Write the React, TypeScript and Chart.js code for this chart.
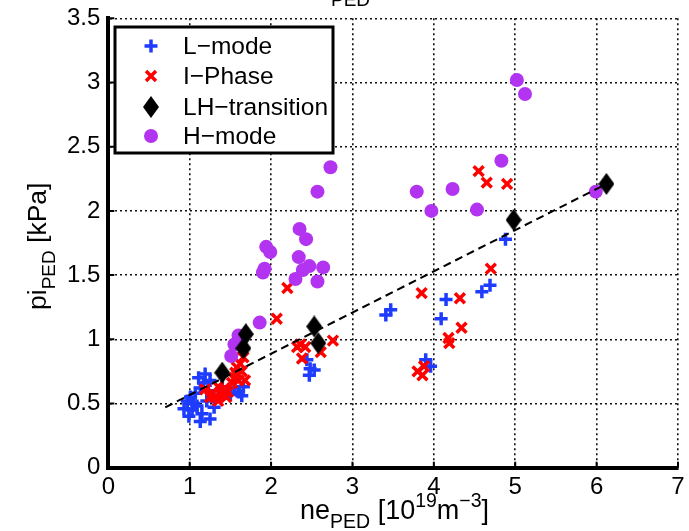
import React, { useEffect, useRef } from "react";
import { Chart, registerables } from "chart.js";

Chart.register(...registerables);

// ---- data ----
const lModeX = [0.93, 0.97, 0.99, 1.01, 1.03, 1.05, 1.07, 1.09, 1.11, 1.13, 1.13, 1.15, 1.17, 1.19, 1.21, 1.23, 1.25, 1.25, 1.30, 1.35, 1.40, 1.47, 1.50, 1.55, 1.60, 1.64, 1.66,
  2.44, 2.48, 2.47, 2.53,
  3.41, 3.47, 3.90, 3.96, 4.09, 4.15, 4.59, 4.69, 4.88];
const lModeY = [0.46, 0.52, 0.40, 0.55, 0.45, 0.50, 0.58, 0.48, 0.70, 0.62, 0.36, 0.42, 0.66, 0.73, 0.52, 0.60, 0.68, 0.38, 0.47, 0.60, 0.63, 0.58, 0.57, 0.62, 0.59, 0.56, 0.63,
  0.84, 0.77, 0.72, 0.76,
  1.19, 1.23, 0.84, 0.79, 1.16, 1.31, 1.37, 1.42, 1.78];

const iPhaseX = [1.19, 1.25, 1.28, 1.31, 1.35, 1.35, 1.39, 1.43, 1.45, 1.47, 1.52, 1.55, 1.56, 1.58, 1.60, 1.62, 1.64, 1.65, 1.66, 1.68,
  2.07, 2.20, 2.32, 2.36, 2.38, 2.42, 2.61, 2.76,
  3.80, 3.86, 3.88, 3.85, 4.18, 4.19, 4.32, 4.34, 4.55, 4.65, 4.70, 4.90];
const iPhaseY = [0.61, 0.55, 0.58, 0.55, 0.52, 0.63, 0.57, 0.62, 0.55, 0.59, 0.66, 0.70, 0.74, 0.78, 0.68, 0.81, 0.75, 0.92, 0.86, 0.68,
  1.16, 1.40, 0.94, 0.96, 0.85, 0.94, 0.90, 0.99,
  0.75, 0.72, 0.79, 1.36, 1.01, 0.97, 1.32, 1.09, 2.31, 2.22, 1.55, 2.21];

const lhX = [1.40, 1.66, 1.69, 2.53, 2.58, 4.98, 6.12];
const lhY = [0.74, 0.93, 1.04, 1.10, 0.97, 1.93, 2.21];

const hModeX = [1.51, 1.55, 1.60, 1.86, 1.90, 1.92, 1.94, 1.99, 2.30, 2.34, 2.35, 2.39, 2.43, 2.47, 2.57, 2.64, 2.57, 2.73,
  3.79, 3.97, 4.23, 4.53, 4.83, 5.02, 5.12, 5.99];
const hModeY = [0.87, 0.96, 1.03, 1.13, 1.52, 1.55, 1.72, 1.68, 1.47, 1.64, 1.86, 1.54, 1.78, 1.57, 1.45, 1.56, 2.15, 2.34,
  2.15, 2.00, 2.17, 2.01, 2.39, 3.02, 2.91, 2.15];

const fitX = [0.70, 6.12];
const fitY = [0.47, 2.21];

const xTicks = [0, 1, 2, 3, 4, 5, 6, 7];
const yTicks = [0, 0.5, 1, 1.5, 2, 2.5, 3, 3.5];
const legendLabels = ["L\u2212mode", "I\u2212Phase", "LH\u2212transition", "H\u2212mode"];

// ---- styles ----
const FONT = '"Liberation Sans", Arial, Helvetica, sans-serif';
const BLUE = "rgb(30,60,255)";
const RED = "rgb(255,0,0)";
const PURPLE = "rgb(178,52,240)";
const BLACK = "#000";

function pts(xs: number[], ys: number[]) {
  return xs.map((x, i) => ({ x, y: ys[i] }));
}

function makeDiamond(w: number, h: number, color: string) {
  const c = document.createElement("canvas");
  c.width = w;
  c.height = h;
  const g = c.getContext("2d")!;
  g.fillStyle = color;
  g.beginPath();
  g.moveTo(w / 2, 0);
  g.lineTo(w, h / 2);
  g.lineTo(w / 2, h);
  g.lineTo(0, h / 2);
  g.closePath();
  g.fill();
  return c;
}

function drawRichText(ctx: CanvasRenderingContext2D, parts: { t: string; k: "n" | "sub" | "sup" }[], x: number, y: number, main: number, small: number) {
  let cx = x;
  for (const p of parts) {
    const size = p.k === "n" ? main : small;
    ctx.font = `${size}px ${FONT}`;
    const dy = p.k === "sub" ? 9 : p.k === "sup" ? -12 : 0;
    ctx.fillText(p.t, cx, y + dy);
    cx += ctx.measureText(p.t).width;
  }
}

export default function App() {
  const ref = useRef<HTMLCanvasElement | null>(null);

  useEffect(() => {
    if (!ref.current) return;
    const diamond = makeDiamond(16, 22, BLACK);

    const overlay = {
      id: "overlay",
      afterDraw(chart: any) {
        const ctx: CanvasRenderingContext2D = chart.ctx;
        const xs = chart.scales.x;
        const ys = chart.scales.y;
        const area = chart.chartArea;
        ctx.save();
        // inward tick marks
        ctx.strokeStyle = BLACK;
        ctx.lineWidth = 2;
        ctx.setLineDash([]);
        ctx.beginPath();
        for (const v of xTicks) {
          const px = xs.getPixelForValue(v);
          ctx.moveTo(px, area.bottom);
          ctx.lineTo(px, area.bottom - 6);
        }
        for (const v of yTicks) {
          const py = ys.getPixelForValue(v);
          ctx.moveTo(area.left, py);
          ctx.lineTo(area.left + 6, py);
        }
        ctx.stroke();

        // legend
        const lx = 115, ly = 27, lw = 218, lh = 126;
        ctx.fillStyle = "#fff";
        ctx.fillRect(lx, ly, lw, lh);
        ctx.strokeStyle = BLACK;
        ctx.lineWidth = 3;
        ctx.strokeRect(lx, ly, lw, lh);
        const rows = [46, 76, 107, 136];
        const mx = 151;
        // plus
        ctx.strokeStyle = BLUE;
        ctx.lineWidth = 3.5;
        ctx.beginPath();
        ctx.moveTo(mx - 6.5, rows[0]); ctx.lineTo(mx + 6.5, rows[0]);
        ctx.moveTo(mx, rows[0] - 6.5); ctx.lineTo(mx, rows[0] + 6.5);
        ctx.stroke();
        // x
        ctx.strokeStyle = RED;
        ctx.beginPath();
        ctx.moveTo(mx - 5, rows[1] - 5); ctx.lineTo(mx + 5, rows[1] + 5);
        ctx.moveTo(mx - 5, rows[1] + 5); ctx.lineTo(mx + 5, rows[1] - 5);
        ctx.stroke();
        // diamond
        ctx.drawImage(diamond, mx - 8, rows[2] - 11, 16, 22);
        // circle
        ctx.fillStyle = PURPLE;
        ctx.beginPath();
        ctx.arc(mx, rows[3], 7, 0, Math.PI * 2);
        ctx.fill();
        ctx.fillStyle = BLACK;
        ctx.font = `24.5px ${FONT}`;
        ctx.textBaseline = "middle";
        ctx.textAlign = "left";
        legendLabels.forEach((t, i) => ctx.fillText(t, 183, rows[i] + 1));

        // axis titles
        ctx.textBaseline = "alphabetic";
        drawRichText(ctx, [
          { t: "ne", k: "n" }, { t: "PED", k: "sub" }, { t: " [10", k: "n" }, { t: "19", k: "sup" },
          { t: "m", k: "n" }, { t: "\u22123", k: "sup" }, { t: "]", k: "n" },
        ], 300, 519, 27, 19.5);

        ctx.save();
        ctx.translate(46, 310);
        ctx.rotate(-Math.PI / 2);
        drawRichText(ctx, [
          { t: "pi", k: "n" }, { t: "PED", k: "sub" }, { t: " [kPa]", k: "n" },
        ], 0, 0, 26.5, 19);
        ctx.restore();

        // top title fragment (cut off by the page top)
        ctx.font = `19px ${FONT}`;
        ctx.fillText("PED", 331, 6);
        ctx.restore();
      },
    };

    const chart = new Chart(ref.current, {
      type: "scatter",
      data: {
        datasets: [
          {
            label: "fit",
            type: "line",
            data: pts(fitX, fitY),
            borderColor: BLACK,
            borderWidth: 2,
            borderDash: [8, 5],
            pointRadius: 0,
            showLine: true,
            fill: false,
            order: 0,
          } as any,
          {
            label: legendLabels[2],
            data: pts(lhX, lhY),
            pointStyle: diamond,
            pointRadius: 10,
            order: 1,
          },
          {
            label: legendLabels[3],
            data: pts(hModeX, hModeY),
            pointStyle: "circle",
            pointRadius: 7,
            backgroundColor: PURPLE,
            borderWidth: 0,
            order: 2,
          },
          {
            label: legendLabels[1],
            data: pts(iPhaseX, iPhaseY),
            pointStyle: "crossRot",
            pointRadius: 7,
            borderColor: RED,
            backgroundColor: RED,
            borderWidth: 3.5,
            order: 3,
          },
          {
            label: legendLabels[0],
            data: pts(lModeX, lModeY),
            pointStyle: "cross",
            pointRadius: 6.5,
            borderColor: BLUE,
            backgroundColor: BLUE,
            borderWidth: 3.5,
            order: 4,
          },
        ],
      },
      options: {
        responsive: false,
        animation: false,
        layout: { padding: { left: 0, right: 2.5, top: 18.3, bottom: 0 } },
        plugins: { legend: { display: false }, tooltip: { enabled: false }, title: { display: false } },
        scales: {
          x: {
            type: "linear",
            min: 0,
            max: 7,
            afterBuildTicks: (s: any) => { s.ticks = xTicks.map((v) => ({ value: v })); },
            afterFit: (s: any) => { s.height = 63.3; s.paddingLeft = 0; s.paddingRight = 0; },
            grid: { color: "#111", lineWidth: 1.6, drawTicks: false },
            border: { color: BLACK, width: 4, dash: [2, 3] },
            ticks: { color: BLACK, font: { family: FONT, size: 24 }, padding: 5, maxRotation: 0, autoSkip: false, callback: (v: any) => String(v) },
          },
          y: {
            type: "linear",
            min: 0,
            max: 3.5,
            afterBuildTicks: (s: any) => { s.ticks = yTicks.map((v) => ({ value: v })); },
            afterFit: (s: any) => { s.width = 108.3; s.paddingTop = 0; s.paddingBottom = 0; },
            grid: { color: "#111", lineWidth: 1.6, drawTicks: false },
            border: { color: BLACK, width: 4, dash: [2, 3] },
            ticks: { color: BLACK, font: { family: FONT, size: 24 }, padding: 8, autoSkip: false, callback: (v: any) => String(v) },
          },
        },
      },
      plugins: [overlay],
    } as any);

    return () => chart.destroy();
  }, []);

  return (
    <div style={{ position: "fixed", left: 0, top: 0, width: 689, height: 531, background: "#fff" }}>
      <canvas ref={ref} width={689} height={531} style={{ display: "block" }} />
    </div>
  );
}
